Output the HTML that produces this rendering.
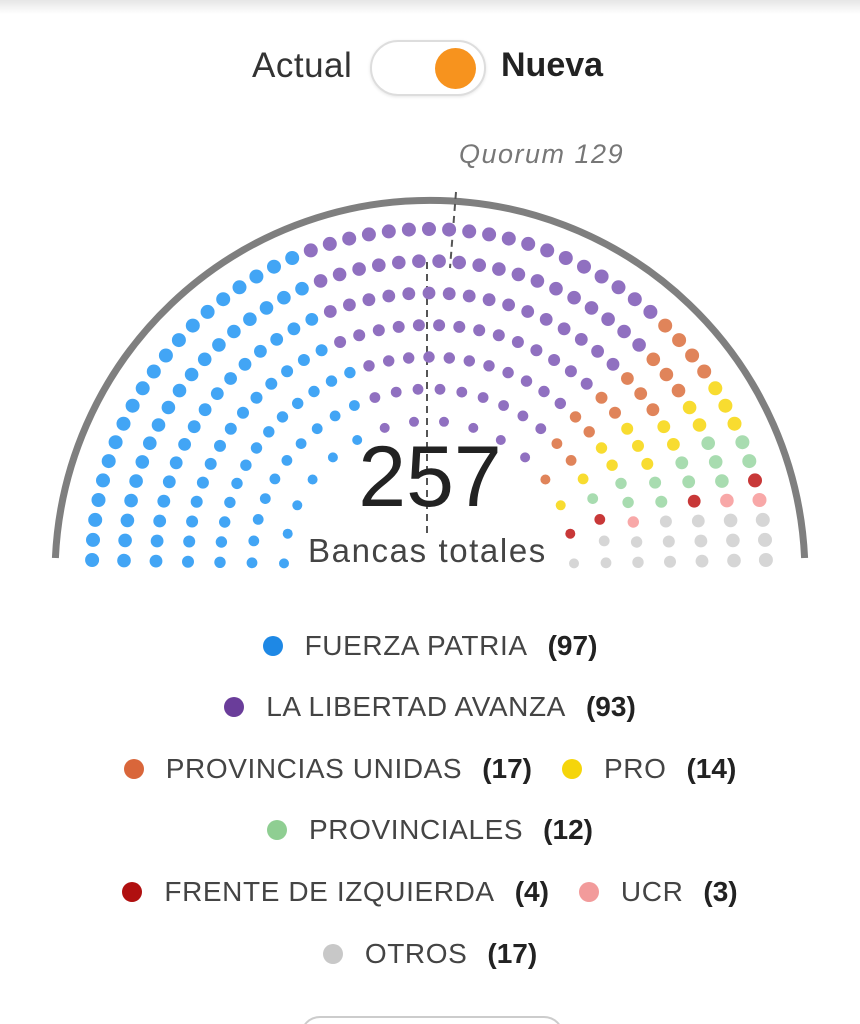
<!DOCTYPE html>
<html style="overflow:hidden;height:1024px"><head><meta charset="utf-8"><style>
body{margin:0;width:860px;height:1024px;background:#fff;overflow:hidden;font-family:"Liberation Sans",sans-serif;position:relative}
.t{position:absolute;white-space:nowrap}
.leg{position:absolute;left:0;width:860px;text-align:center;font-size:28px;color:#444;white-space:nowrap;letter-spacing:0.6px}
.leg span.d{display:inline-block;width:20px;height:20px;border-radius:50%;vertical-align:-1px;margin-right:22px}
.leg b{color:#222;margin-left:20px;margin-right:0;letter-spacing:0}
.gap{display:inline-block;width:30px}
</style></head><body>
<div style="position:absolute;left:0;top:0;width:860px;height:14px;background:linear-gradient(#e6e6e6,#fff)"></div>
<div class="t" style="left:252px;top:46px;font-size:35px;color:#333;letter-spacing:0.5px">Actual</div>
<div style="position:absolute;left:370px;top:40px;width:116px;height:56px;border:2px solid #ddd;border-radius:30px;box-sizing:border-box;background:#fff;box-shadow:0 1px 3px rgba(0,0,0,.1)"></div>
<div style="position:absolute;left:435px;top:48px;width:41px;height:41px;border-radius:50%;background:#f7931e"></div>
<div class="t" style="left:501px;top:46px;font-size:34px;font-weight:bold;color:#222">Nueva</div>
<div class="t" style="left:459px;top:139px;font-size:27px;font-style:italic;color:#777;letter-spacing:1.5px">Quorum 129</div>
<svg id="s" width="860" height="600" style="position:absolute;left:0;top:0">
<path d="M55.4,558 A375,375 0 0 1 804.6,558" fill="none" stroke="#7f7f7f" stroke-width="7"/>
<line x1="456" y1="192" x2="450" y2="268" stroke="#555" stroke-width="2" stroke-dasharray="7,5"/>
<line x1="427" y1="262" x2="427" y2="536" stroke="#555" stroke-width="2" stroke-dasharray="7,5"/>
<g id="g"></g>
</svg>
<div class="t" style="left:0;width:860px;text-align:center;top:428px;font-size:86px;font-weight:300;color:#222;">257</div>
<div class="t" style="left:308px;top:532px;font-size:33px;color:#444;letter-spacing:1.6px">Bancas totales</div>
<div class="leg" style="top:630px"><span class="d" style="background:#1e88e5"></span>FUERZA PATRIA<b>(97)</b></div>
<div class="leg" style="top:691px"><span class="d" style="background:#6a3d9a"></span>LA LIBERTAD AVANZA<b>(93)</b></div>
<div class="leg" style="top:753px"><span class="d" style="background:#d9663a"></span>PROVINCIAS UNIDAS<b>(17)</b><span class="gap"></span><span class="d" style="background:#f5d50a"></span>PRO<b>(14)</b></div>
<div class="leg" style="top:814px"><span class="d" style="background:#8fce92"></span>PROVINCIALES<b>(12)</b></div>
<div class="leg" style="top:876px"><span class="d" style="background:#b01010"></span>FRENTE DE IZQUIERDA<b>(4)</b><span class="gap"></span><span class="d" style="background:#f29b9b"></span>UCR<b>(3)</b></div>
<div class="leg" style="top:938px"><span class="d" style="background:#c8c8c8"></span>OTROS<b>(17)</b></div>
<div style="position:absolute;left:300px;top:1016px;width:260px;height:40px;border:2px solid #ccc;border-radius:20px"></div>
<script>
var rows=[[337,53,7],[305,48,6.8],[273,43,6.4],[241,38,6],[209,33,5.7],[177,26,5.4],[145,16,5]];
var cx=429,cy=566,a0=Math.asin(6/337),seats=[];
rows.forEach(function(r){for(var i=0;i<r[1];i++){var t=a0+(Math.PI-2*a0)*i/(r[1]-1);seats.push({a:t,r:r[0],s:r[2]});}});
seats.sort(function(p,q){return q.a-p.a||q.r-p.r});
var parts=[[97,"#42a5f5"],[93,"#9070c0"],[17,"#e0845a"],[14,"#f8dc30"],[12,"#a8dcb0"],[4,"#c83838"],[3,"#f8a8a8"],[17,"#d6d6d6"]];
var k=0,h="";
parts.forEach(function(p){for(var i=0;i<p[0];i++){var s=seats[k++];if(!s)return;
h+='<circle cx="'+(cx+s.r*Math.cos(s.a)).toFixed(1)+'" cy="'+(cy-s.r*Math.sin(s.a)).toFixed(1)+'" r="'+s.s+'" fill="'+p[1]+'"/>';}});
document.getElementById("g").innerHTML=h;
</script>
</body></html>
